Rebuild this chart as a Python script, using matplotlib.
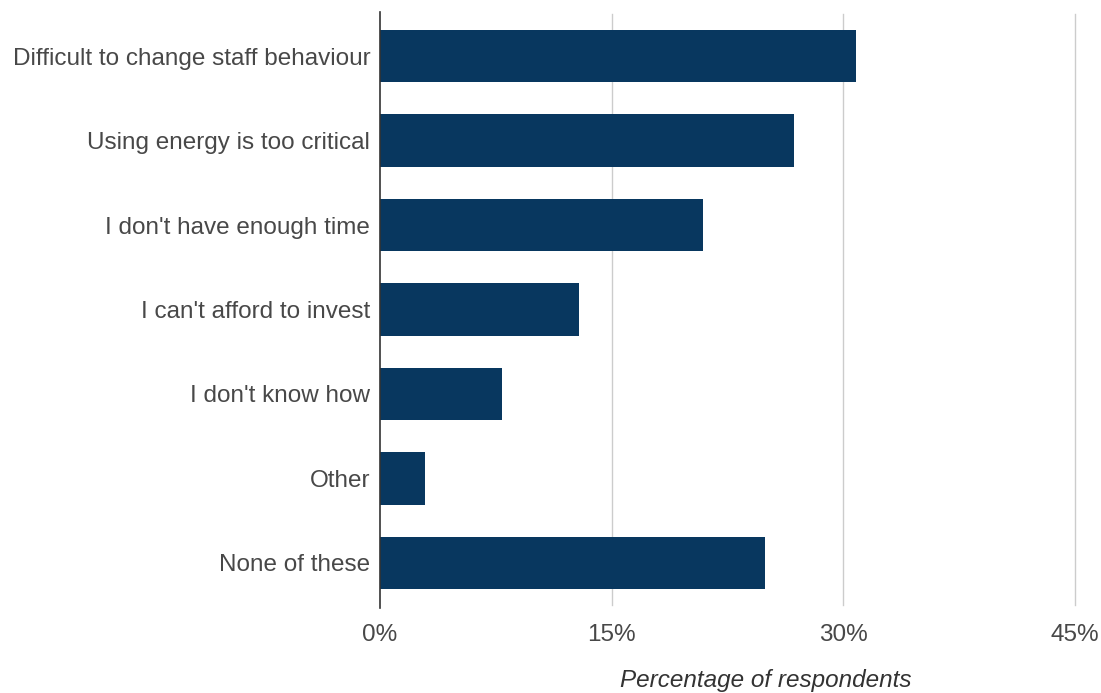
import matplotlib
matplotlib.use('Agg')
import matplotlib.pyplot as plt
from matplotlib.ticker import FuncFormatter

# survey results, read top to bottom
categorias = [
    'Difficult to change staff behaviour',
    'Using energy is too critical',
    "I don't have enough time",
    "I can't afford to invest",
    "I don't know how",
    'Other',
    'None of these',
]
porcentajes = [30.8, 26.8, 20.9, 12.9, 7.9, 2.9, 24.9]
ticks_x = [0, 15, 30, 45]

plt.rcParams['font.family'] = ['Liberation Sans', 'DejaVu Sans']

fig = plt.figure(figsize=(11.01, 6.93), dpi=100)
ax = fig.add_axes([380 / 1101, 1 - 605 / 693, (1075 - 380) / 1101, (605 - 14) / 693])

pos = list(range(len(categorias)))
ax.barh(pos, porcentajes, height=0.62, color='#08375f', zorder=3)
ax.set_yticks(pos)
ax.set_yticklabels(categorias)
ax.set_ylim(len(categorias) - 0.5, -0.5)

ax.set_xlim(0, 45)
ax.set_xticks(ticks_x)
ax.xaxis.set_major_formatter(FuncFormatter(lambda v, p: '%d%%' % v))
ax.grid(axis='x', color='#cccccc', linewidth=1, zorder=0)
lineas = ax.xaxis.get_gridlines()
lineas[0].set_visible(False)
for l in lineas:
    l.set_clip_on(False)

for lado in ['top', 'right', 'bottom']:
    ax.spines[lado].set_visible(False)
ax.spines['left'].set_color('#333333')
ax.spines['left'].set_linewidth(1.2)
ax.spines['left'].set_zorder(4)
ax.spines['left'].set_bounds(len(categorias) - 0.47, -0.52)

ax.tick_params(axis='both', length=0, labelsize=17.5, labelcolor='#484848')
ax.tick_params(axis='y', pad=7)
ax.tick_params(axis='x', pad=14)

fig.text(766 / 1101, 1 - 681 / 693, 'Percentage of respondents', fontsize=17.5,
         style='italic', color='#333333', ha='center', va='center')

fig.savefig('out.png', dpi=100)
